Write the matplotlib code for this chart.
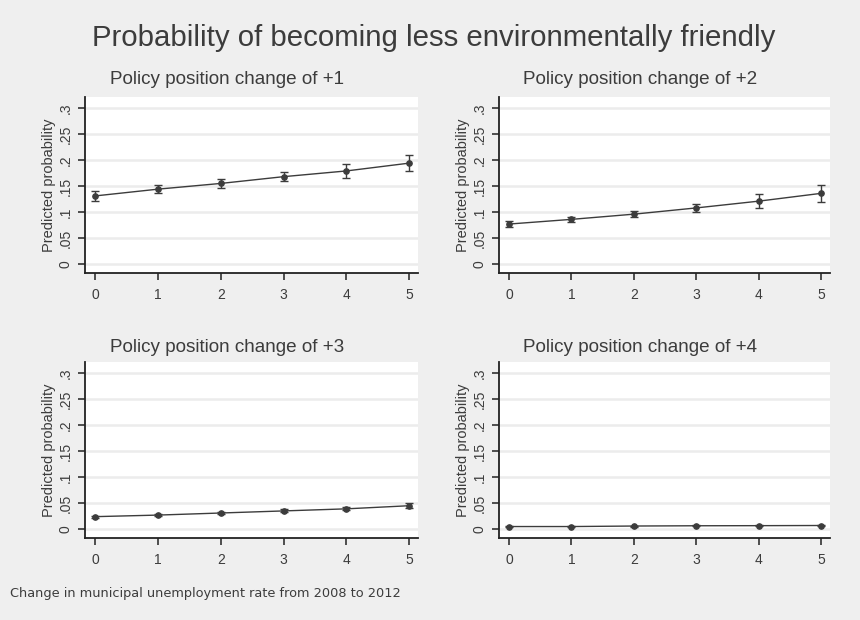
import matplotlib
matplotlib.use("Agg")
import matplotlib.pyplot as plt
from matplotlib import font_manager
import numpy as np

# change in municipal unemployment rate (x) and predicted probabilities per panel
x_vals = [0, 1, 2, 3, 4, 5]
panel_titles = [
    "Policy position change of +1",
    "Policy position change of +2",
    "Policy position change of +3",
    "Policy position change of +4",
]
prob_p1 = [0.131, 0.144, 0.155, 0.168, 0.179, 0.194]
ci_p1 = [0.009, 0.008, 0.008, 0.009, 0.013, 0.016]
prob_p2 = [0.077, 0.086, 0.096, 0.108, 0.121, 0.136]
ci_p2 = [0.006, 0.005, 0.006, 0.008, 0.013, 0.016]
prob_p3 = [0.024, 0.027, 0.031, 0.035, 0.039, 0.045]
ci_p3 = [0.002, 0.002, 0.002, 0.003, 0.003, 0.005]
prob_p4 = [0.005, 0.005, 0.006, 0.0065, 0.0067, 0.007]
ci_p4 = [0.001, 0.001, 0.001, 0.001, 0.001, 0.001]

y_ticks = [0, 0.05, 0.1, 0.15, 0.2, 0.25, 0.3]
y_ticklabels = ["0", ".05", ".1", ".15", ".2", ".25", ".3"]

main_title = "Probability of becoming less environmentally friendly"
y_label = "Predicted probability"
note_text = "Change in municipal unemployment rate from 2008 to 2012"

BG = "#efefef"
INK = "#3c3c3c"
GRID = "#ececec"


def pick_font(names):
    avail = {f.name for f in font_manager.fontManager.ttflist}
    for n in names:
        if n in avail:
            return n
    return "DejaVu Sans"


arial = pick_font(["Liberation Sans", "DejaVu Sans"])

W, H = 860, 620
fig = plt.figure(figsize=(W / 100, H / 100), dpi=100, facecolor=BG)


def px_rect(left, top, right, bottom):
    return [left / W, 1 - bottom / H, (right - left) / W, (bottom - top) / H]


rects = [
    px_rect(85, 97, 418, 273),
    px_rect(499, 97, 830, 273),
    px_rect(85, 362, 418, 538),
    px_rect(499, 362, 830, 538),
]
series = [(prob_p1, ci_p1), (prob_p2, ci_p2), (prob_p3, ci_p3), (prob_p4, ci_p4)]
title_pos = [(227, 80), (640, 80), (227, 347), (640, 347)]

for i, (rect, (prob, ci)) in enumerate(zip(rects, series)):
    ax = fig.add_axes(rect)
    ax.set_facecolor("white")
    ax.set_xlim(-0.16, 5.14)
    ax.set_ylim(-0.017, 0.321)
    ax.set_yticks(y_ticks)
    ax.set_yticklabels(y_ticklabels, rotation=90, va="center")
    ax.set_xticks(x_vals)
    ax.set_xticklabels([str(v) for v in x_vals])
    for t in ax.get_yticklabels() + ax.get_xticklabels():
        t.set_fontfamily(arial)
        t.set_fontsize(10)
        t.set_color(INK)
    ax.tick_params(direction="out", length=5, width=1.1, color="#222222")
    ax.tick_params(axis="x", pad=6)
    ax.tick_params(axis="y", pad=4)
    ax.grid(axis="y", color=GRID, linewidth=1.8)
    ax.set_axisbelow(True)
    for side in ["top", "right"]:
        ax.spines[side].set_visible(False)
    for side in ["left", "bottom"]:
        ax.spines[side].set_color("#222222")
        ax.spines[side].set_linewidth(1.3)
    ax.plot(x_vals, prob, color=INK, linewidth=1.0, zorder=3)
    ax.errorbar(x_vals, prob, yerr=ci, fmt="o", color=INK, markersize=3.8,
                elinewidth=1.0, capsize=3, capthick=1.0, zorder=4)
    ax.set_ylabel(y_label, fontfamily=arial, fontsize=10.5, color=INK, labelpad=2)
    tx, ty = title_pos[i]
    fig.text(tx / W, 1 - ty / H, panel_titles[i], ha="center", va="center",
             fontfamily=arial, fontsize=13.6, color=INK)

fig.text(434 / W, 1 - 38 / H, main_title, ha="center", va="center",
         fontfamily=arial, fontsize=21.2, color=INK)
fig.text(10 / W, 1 - 593 / H, note_text, ha="left", va="center",
         fontfamily="DejaVu Sans", fontsize=9.3, color=INK)

fig.savefig("out.png", dpi=100, facecolor=BG)
